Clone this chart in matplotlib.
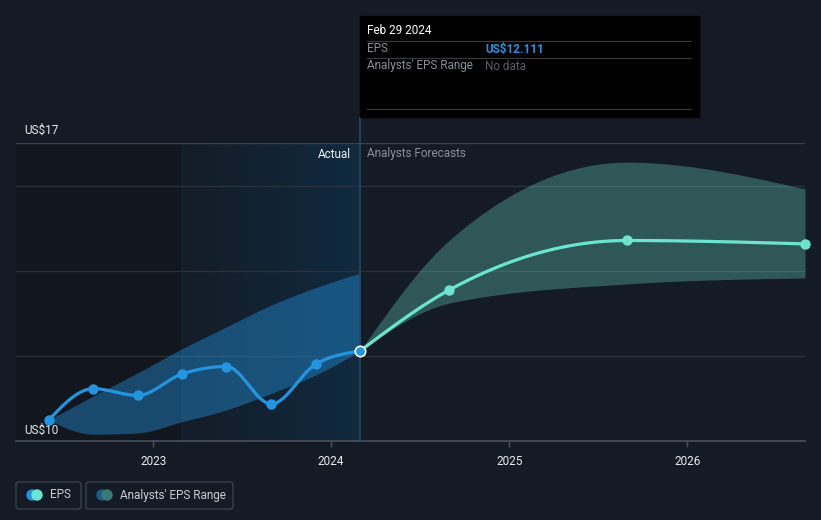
import numpy as np
import pandas as pd
import matplotlib
matplotlib.use("Agg")
from matplotlib import pyplot as plt
from matplotlib import dates as mdates
from matplotlib.patches import FancyBboxPatch, Rectangle, Circle
from matplotlib.colors import LinearSegmentedColormap

plt.rcParams['font.family'] = ['Roboto', 'DejaVu Sans']

# data
actual_dates = ['2022-05-31', '2022-08-31', '2022-11-30', '2023-02-28',
                '2023-05-31', '2023-08-31', '2023-11-30', '2024-02-29']
actual_eps = [10.49, 11.23, 11.07, 11.57, 11.75, 10.87, 11.80, 12.111]
past_range_hi = [10.49, 11.06, 11.60, 12.16, 12.68, 13.19, 13.60, 13.94]
past_range_lo = [10.49, 10.16, 10.19, 10.45, 10.73, 11.12, 11.55, 12.111]

forecast_dates = ['2024-02-29', '2024-08-31', '2025-08-31', '2026-08-31']
forecast_eps = [12.111, 13.55, 14.71, 14.63]
forecast_hi = [12.111, 14.72, 16.55, 15.92]
forecast_lo = [12.111, 13.24, 13.69, 13.83]

year_ticks = ['2023-01-01', '2024-01-01', '2025-01-01', '2026-01-01']
year_labels = ['2023', '2024', '2025', '2026']

BG = '#151b25'
BLUE = '#2394df'
TEAL = '#6ce5cf'
GRID = '#2b313b'


def monotone(x, y, n=60):
    # d3 style monotone-x curve
    x = np.asarray(x, float)
    y = np.asarray(y, float)
    h = np.diff(x)
    s = np.diff(y) / h
    m = np.zeros(len(x))
    for i in range(1, len(x) - 1):
        if s[i - 1] * s[i] <= 0:
            m[i] = 0
        else:
            p = (s[i - 1] * h[i] + s[i] * h[i - 1]) / (h[i - 1] + h[i])
            m[i] = (np.sign(s[i - 1]) + np.sign(s[i])) * min(abs(s[i - 1]), abs(s[i]), 0.5 * abs(p))
    m[0] = (3 * s[0] - m[1]) / 2
    m[-1] = (3 * s[-1] - m[-2]) / 2
    xs, ys = [], []
    for i in range(len(x) - 1):
        t = np.linspace(0, 1, n)
        h00 = 2 * t**3 - 3 * t**2 + 1
        h10 = t**3 - 2 * t**2 + t
        h01 = -2 * t**3 + 3 * t**2
        h11 = t**3 - t**2
        xs.append(x[i] + t * h[i])
        ys.append(h00 * y[i] + h10 * h[i] * m[i] + h01 * y[i + 1] + h11 * h[i] * m[i + 1])
    return np.concatenate(xs), np.concatenate(ys)


ax_dates = mdates.date2num(pd.to_datetime(actual_dates))
fc_dates = mdates.date2num(pd.to_datetime(forecast_dates))

fig = plt.figure(figsize=(8.21, 5.2), dpi=100, facecolor=BG)
W, H = 821, 520
ax = fig.add_axes([16 / W, (H - 441) / H, (805 - 16) / W, (441 - 143) / H])
ax.set_facecolor(BG)
x0 = mdates.date2num(pd.Timestamp('2022-03-25'))
x1 = mdates.date2num(pd.Timestamp('2026-08-31'))

# shaded history regions
ax.axvspan(x0, ax_dates[3], color='#12161e', zorder=0, lw=0)
grad = np.linspace(0, 1, 256).reshape(1, -1)
cmap = LinearSegmentedColormap.from_list('g', ['#141c27', '#102a3f'])
ax.imshow(grad, cmap=cmap, aspect='auto', extent=[ax_dates[3], ax_dates[-1], 10, 17],
          zorder=0.5, interpolation='bicubic')
ax.axvline(ax_dates[3], color='#17242f', lw=1, zorder=0.6)
ax.set_xlim(x0, x1)
ax.set_ylim(10, 17)

# gridlines
for v in [12, 14, 16, 17]:
    ax.axhline(v, color=GRID if v != 17 else '#3a404a', lw=1, zorder=1)

# ranges
bx, bhi = monotone(ax_dates, past_range_hi)
_, blo = monotone(ax_dates, past_range_lo)
ax.fill_between(bx, blo, bhi, color=BLUE, alpha=0.42, lw=0, zorder=2)
fx, fhi = monotone(fc_dates, forecast_hi)
_, flo = monotone(fc_dates, forecast_lo)
ax.fill_between(fx, flo, fhi, color=TEAL, alpha=0.3, lw=0, zorder=2)

# lines
lx, ly = monotone(ax_dates, actual_eps)
ax.plot(lx, ly, color=BLUE, lw=2.3, zorder=4, solid_capstyle='round')
ax.plot(ax_dates[:-1], actual_eps[:-1], 'o', color=BLUE, ms=6.5, zorder=5)
fx2, fy2 = monotone(fc_dates, forecast_eps)
ax.plot(fx2, fy2, color=TEAL, lw=2.3, zorder=4, solid_capstyle='round')
ax.plot(fc_dates[1:], forecast_eps[1:], 'o', color=TEAL, ms=6.5, zorder=5, clip_on=False)
ax.plot([ax_dates[-1]], [actual_eps[-1]], 'o', color=BLUE, mec='white', mew=1.2, ms=7.5,
        zorder=6)

# divider line at present
ax.plot([ax_dates[-1]] * 2, [10, 17.6], color='#1e4a6a', lw=1.2, zorder=3, clip_on=False)

# axes styling
for sp in ['top', 'right', 'left']:
    ax.spines[sp].set_visible(False)
ax.spines['bottom'].set_color('#4a505a')
ax.spines['bottom'].set_linewidth(1.2)
ax.set_yticks([])
ax.set_xticks(mdates.date2num(pd.to_datetime(year_ticks)))
ax.set_xticklabels(year_labels)
ax.tick_params(axis='x', colors='#4a505a', length=4, width=1, labelcolor='#e8eaed',
               labelsize=8.5, pad=6)

fig.text(24 / W, (H - 130) / H, 'US$17', color='#e8eaed', fontsize=8.5, va='center', ha='left')
fig.text(24 / W, (H - 430) / H, 'US$10', color='#e8eaed', fontsize=8.5, va='center', ha='left')
fig.text(351 / W, (H - 154) / H, 'Actual', color='#f0f0f0', fontsize=8.5, va='center', ha='right')
fig.text(367 / W, (H - 154) / H, 'Analysts Forecasts', color='#8a8f98', fontsize=8.5,
         va='center', ha='left')

# tooltip
fig.patches.append(Rectangle((360 / W, (H - 117) / H), (699 - 360) / W, (117 - 16) / H,
                             transform=fig.transFigure, color='#000000', zorder=10))
for yy in [41, 58, 109]:
    fig.add_artist(plt.Line2D([367 / W, 691 / W], [(H - yy) / H] * 2, color='#3a3a3a', lw=0.8,
                              zorder=11))
fig.text(367 / W, (H - 31) / H, 'Feb 29 2024', color='white', fontsize=8.5, va='center',
         zorder=12)
fig.text(367 / W, (H - 49) / H, 'EPS', color='#8a8f98', fontsize=8.5, va='center', zorder=12)
fig.text(485 / W, (H - 49) / H, 'US$12.111', color=BLUE, fontsize=8.5, va='center',
         fontweight='bold', zorder=12)
fig.text(367 / W, (H - 66) / H, "Analysts' EPS Range", color='#8a8f98', fontsize=8.5,
         va='center', zorder=12)
fig.text(485 / W, (H - 66) / H, 'No data', color='#5a5e66', fontsize=8.5, va='center', zorder=12)


# legend
def legend_box(xl, xr, c1, c2, label):
    fig.patches.append(FancyBboxPatch((xl / W, (H - 509) / H), (xr - xl) / W, 27 / H,
                                      boxstyle='round,pad=0,rounding_size=0.004',
                                      transform=fig.transFigure, fc='none', ec='#3a404a',
                                      lw=1))
    cy = (H - 495) / H
    fig.add_artist(Circle((xl + 16, H - 495), 5, color=c1, transform=None))
    fig.add_artist(Circle((xl + 21, H - 495), 5, color=c2, transform=None))
    fig.text((xl + 34) / W, cy, label, color='#c8ccd2', fontsize=8.5, va='center')


legend_box(16, 81, BLUE, TEAL, 'EPS')
legend_box(86, 233, '#1e5a85', '#3a7a74', "Analysts' EPS Range")

fig.savefig('out.png', dpi=100, facecolor=BG)
